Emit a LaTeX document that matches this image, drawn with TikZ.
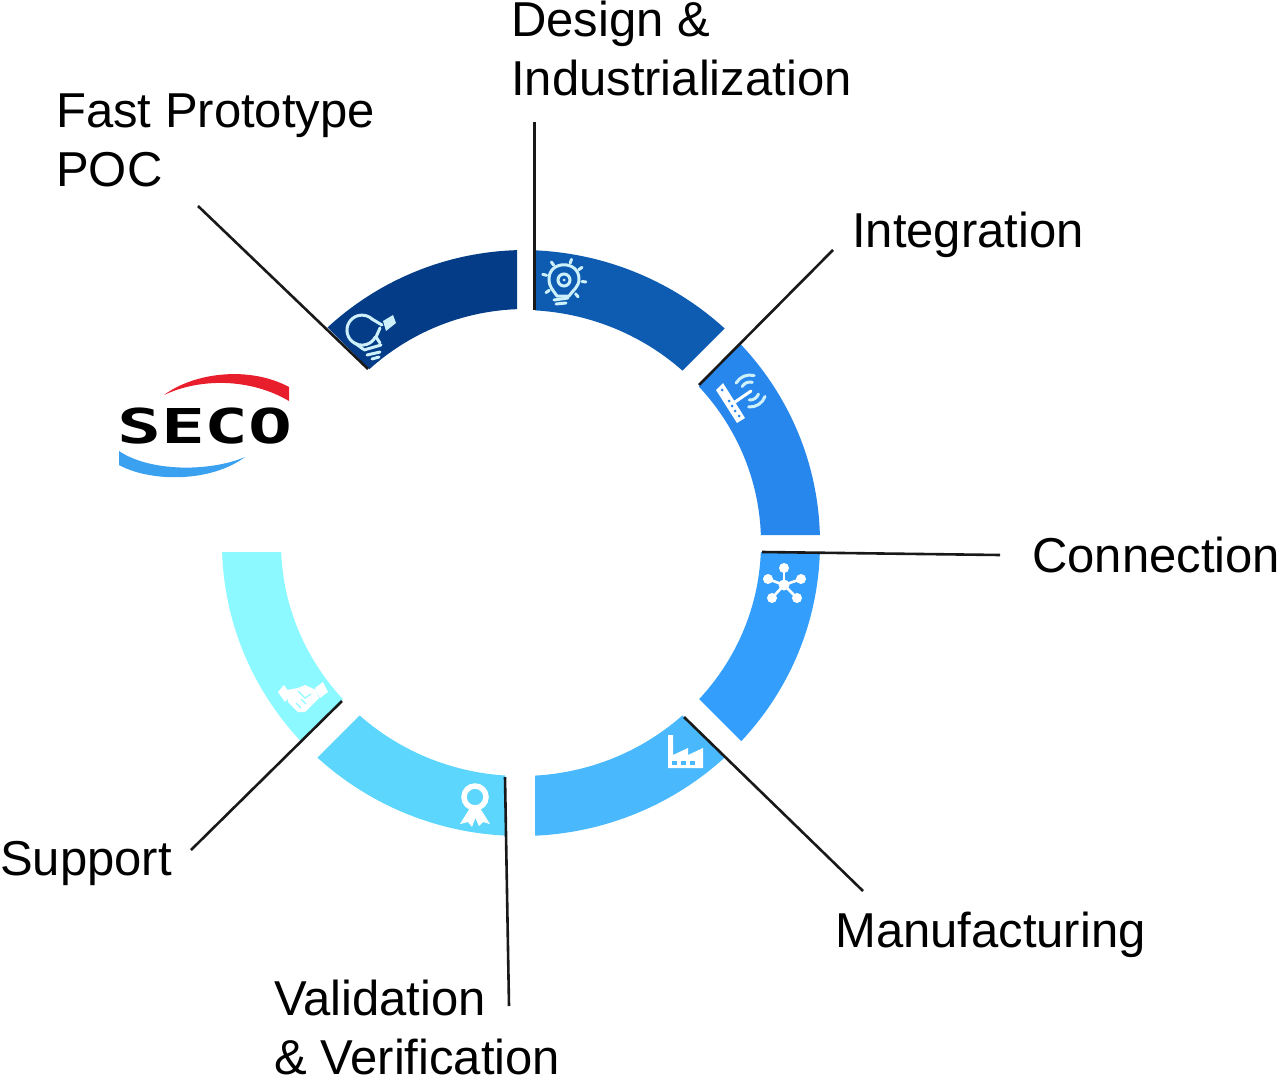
\documentclass[tikz,border=0pt]{standalone}
\usepackage{fontspec}
\setmainfont{Liberation Sans}
\newfontfamily\logofont{DejaVu Sans Mono}
\usepackage{xcolor}
\usepackage{tikz}
\usetikzlibrary{calc}
\definecolor{segA}{RGB}{4,60,135}
\definecolor{segB}{RGB}{13,92,178}
\definecolor{segC}{RGB}{40,135,236}
\definecolor{segD}{RGB}{52,158,252}
\definecolor{segE}{RGB}{74,184,252}
\definecolor{segF}{RGB}{92,214,252}
\definecolor{segG}{RGB}{140,248,255}
\definecolor{logoR}{RGB}{232,30,44}
\definecolor{logoB}{RGB}{58,160,240}
\definecolor{iconA}{RGB}{205,240,250}
\newcommand{\ringseg}[2]{\begin{scope}\clip #2 -- cycle;
  \fill[#1, even odd rule] (521,543) ellipse [x radius=299, y radius=293] (521,543) ellipse [x radius=240, y radius=233];
\end{scope}}
\tikzset{
  phase/.style={anchor=base west, inner sep=0pt, align=left, font=\fontsize{49}{59}\selectfont},
  leader/.style={line width=2.6pt, black!90},
  iconline/.style={draw=#1, line width=3pt, line cap=round, line join=round},
  iconline/.default=white
}
\begin{document}
\begin{tikzpicture}[x=1pt, y=-1pt]
\useasboundingbox (0,0) rectangle (1280,1076);
% ring segments
\begin{scope}
  \clip (517,200) -- (200,200) -- (400,400) -- (517,400) -- cycle;
  \fill[segA, even odd rule] (526,543) circle [radius=293] (526,543) circle [radius=234];
\end{scope}
\ringseg{segB}{(535,200) -- (853,200) -- (643,410) -- (535,410)}
\ringseg{segC}{(885,200) -- (900,200) -- (900,535) -- (550,535)}
\ringseg{segD}{(552,552) -- (900,552) -- (900,900)}
\ringseg{segE}{(535,568) -- (900,933) -- (535,933)}
\ringseg{segF}{(505,570) -- (505,900) -- (175,900)}
\ringseg{segG}{(150,552) -- (490,552) -- (150,892)}
% labels
\node[phase] (fast) at (56,186) {Fast Prototype\\POC};
\node[phase] (design) at (511,95) {Design \&\\Industrialization};
\node[phase] (integ) at (852,247) {Integration};
\node[phase] (conn) at (1032,572) {Connection};
\node[phase] (manuf) at (835,947) {Manufacturing};
\node[phase] (valid) at (274,1074) {Validation\\\& Verification};
\node[phase] (support) at (0,875) {Support};
% leader ends
\coordinate (fastA) at (198,206);   \coordinate (fastB) at (368,369);
\coordinate (designA) at (534.5,122); \coordinate (designB) at (534.5,310);
\coordinate (integA) at (833,250);  \coordinate (integB) at (699,385);
\coordinate (connA) at (1000,555);  \coordinate (connB) at (762,552);
\coordinate (manufA) at (863,891);  \coordinate (manufB) at (684,717);
\coordinate (validA) at (509,1006); \coordinate (validB) at (505,777);
\coordinate (supportA) at (191,850); \coordinate (supportB) at (342,701);
\foreach \leadname in {fast,design,integ,conn,manuf,valid,support}
  \draw[leader] (\leadname A) -- (\leadname B);
% lamp with pen
\draw[iconline=iconA] (372,319) arc[start angle=-48, end angle=-333, radius=15];
\draw[iconline=iconA] (376,337) -- (380,343) (355,343) -- (363,349) (364,350) -- (381,345) (367,355) -- (380,352) (372,359) -- (379,357);
\draw[iconline=iconA] (372,319) -- (382,325) (376,337) -- (380,328);
\fill[iconA] (383,321) -- (393,315) -- (396,323) -- (386,331) -- cycle;
% lamp with rays
\draw[iconline=iconA] (557,296) .. controls (553,290) and (549,287) .. (549,279) .. controls (549,260) and (579,260) .. (579,279) .. controls (579,287) and (573,290) .. (569,296) -- cycle;
\draw[iconA, line width=3pt] (564,280) circle [radius=6];
\fill[iconA] (564,280) circle [radius=1.5];
\draw[iconline=iconA] (554,300) -- (568,298) (556,304) -- (566,303);
\foreach \rayang in {-165,-125,-70,-35,5,50,145}
  \draw[iconline=iconA] ($(564,280)+(\rayang:18)$) -- ($(564,280)+(\rayang:22)$);
% router
\fill[white] (716,390) -- (723,383) -- (745,418) -- (737,423) -- cycle;
\foreach \dotx/\doty in {722/390,729/401,732/406,735/411,739/416}
  \fill[segC] (\dotx,\doty) circle [radius=1.5];
\draw[iconline] (735,402) -- (751,391);
\foreach \fanrad in {9,16}{
  \draw[iconline=iconA] (750,391) ++(-150:\fanrad) arc[start angle=-150, end angle=-75, radius=\fanrad];
  \draw[iconline=iconA] (750,391) ++(20:\fanrad) arc[start angle=20, end angle=95, radius=\fanrad];
}
% connection star
\foreach \satx/\saty in {784/568,801/579,768/579,772/598,797/598}{
  \draw[white, line width=2.6pt] (784,585) -- (\satx,\saty);
  \fill[white] (\satx,\saty) circle [radius=5];
}
\fill[white] (784,585) circle [radius=5.5];
% factory
\fill[white] (668,735) -- (673,735) -- (673,755) -- (688,748) -- (688,755) -- (703,748) -- (703,768) -- (668,768) -- cycle;
\foreach \winx in {672,681,690} \fill[segE] (\winx,761) rectangle +(5,4);
% rosette
\fill[white] (470,808) -- (460,824) -- (468,822) -- (472,827) -- (478,811) -- cycle;
\fill[white] (480,808) -- (490,824) -- (483,822) -- (479,826) -- (472,811) -- cycle;
\draw[white, line width=5.5pt] (475,797) circle [radius=11];
% handshake
\fill[white] (278,692) -- (284,685) -- (291,695) -- (285,702) -- cycle;
\fill[white] (315,688) -- (323,682) -- (328,692) -- (320,698) -- cycle;
\fill[white] (287,690) -- (298,688) -- (305,685) -- (316,690) -- (319,698) -- (305,712) -- (298,712) -- (288,702) -- cycle;
\draw[segG, line width=1.2pt] (298,691) -- (305,698) -- (311,694) (296,703) -- (301,708) (301,699) -- (306,704);
% logo
\node[inner sep=0pt, xscale=1.52, font=\logofont\bfseries\fontsize{48}{48}\selectfont] (logo) at (205,426) {SECO};
\fill[logoR] (164,395) .. controls (195,372) and (250,366) .. (289,387) -- (289,401) .. controls (250,378) and (200,378) .. cycle;
\fill[logoB] (119,451) .. controls (150,472) and (210,472) .. (245,457) .. controls (210,483) and (150,482) .. (119,465) -- cycle;
\end{tikzpicture}
\end{document}
